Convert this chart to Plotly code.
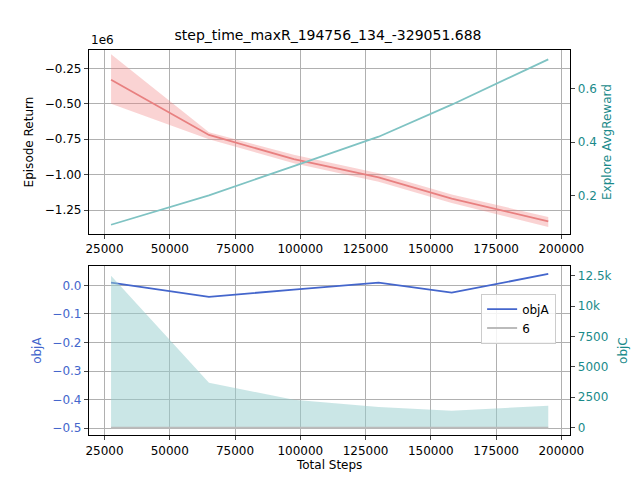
import plotly.graph_objects as go

steps = [27500, 65000, 97500, 130000, 158000, 195000]
ep_return = [-0.33e6, -0.72e6, -0.89e6, -1.02e6, -1.17e6, -1.33e6]
ep_upper = [-0.15e6, -0.70e6, -0.86e6, -0.99e6, -1.14e6, -1.30e6]
ep_lower = [-0.50e6, -0.75e6, -0.92e6, -1.05e6, -1.20e6, -1.37e6]
explore_reward = [0.09, 0.20, 0.31, 0.42, 0.54, 0.71]
obj_a = [0.01, -0.04, -0.015, 0.01, -0.025, 0.04]
obj_c = [12500, 3700, 2300, 1700, 1400, 1800]
six = [0, 0, 0, 0, 0, 0]
xticks = [25000, 50000, 75000, 100000, 125000, 150000, 175000, 200000]

fig = go.Figure()
# top panel
fig.add_trace(go.Scatter(x=steps + steps[::-1], y=ep_upper + ep_lower[::-1], fill="toself", mode="lines",
                         fillcolor="rgba(240,128,128,0.35)", line=dict(width=0),
                         xaxis="x", yaxis="y", showlegend=False, hoverinfo="skip"))
fig.add_trace(go.Scatter(x=steps, y=ep_return, mode="lines", line=dict(color="#e88080", width=1.8),
                         xaxis="x", yaxis="y", showlegend=False))
fig.add_trace(go.Scatter(x=steps, y=explore_reward, mode="lines", line=dict(color="#7fc3c3", width=1.8),
                         xaxis="x", yaxis="y2", showlegend=False))
# bottom panel
fig.add_trace(go.Scatter(x=steps, y=obj_c, fill="tozeroy", fillcolor="rgba(150,205,205,0.5)",
                         line=dict(width=0), mode="lines", xaxis="x2", yaxis="y4", showlegend=False))
fig.add_trace(go.Scatter(x=steps, y=six, mode="lines", line=dict(color="#bbbbbb", width=2),
                         xaxis="x2", yaxis="y4", name="6"))
fig.add_trace(go.Scatter(x=steps, y=obj_a, mode="lines", line=dict(color="#4466cc", width=1.8),
                         xaxis="x2", yaxis="y3", name="objA"))

ax = dict(showgrid=True, gridcolor="#b0b0b0", showline=True, linecolor="black", mirror=True,
          ticks="outside", ticklen=4, zeroline=False, tickfont=dict(size=12, color="black"))
xlabels = [str(v) for v in xticks]

fig.update_layout(
    width=640, height=480, margin=dict(l=0, r=0, t=0, b=0),
    paper_bgcolor="white", plot_bgcolor="white",
    font=dict(family="DejaVu Sans", size=12, color="black"),
    title=dict(text="step_time_maxR_194756_134_-329051.688", x=0.5, y=0.944, xanchor="center",
               yanchor="middle", font=dict(size=14)),
    xaxis=dict(ax, domain=[0.125, 0.898], range=[19000, 203500], tickvals=xticks, ticktext=xlabels,
               anchor="y"),
    yaxis=dict(ax, domain=[0.529, 0.9125], range=[-1.42e6, -0.12e6],
               tickvals=[-1.25e6, -1.0e6, -0.75e6, -0.5e6, -0.25e6],
               ticktext=["−1.25", "−1.00", "−0.75", "−0.50", "−0.25"],
               title=dict(text="Episode Return", standoff=8, font=dict(size=12))),
    yaxis2=dict(ax, overlaying="y", side="right", range=[0.055, 0.745], showgrid=False,
                tickvals=[0.2, 0.4, 0.6], tickfont=dict(size=12, color="#1a8a8a"),
                title=dict(text="Explore AvgReward", font=dict(color="#1a8a8a", size=12), standoff=6)),
    xaxis2=dict(ax, domain=[0.125, 0.898], range=[19000, 203500], tickvals=xticks, ticktext=xlabels,
                anchor="y3", title=dict(text="Total Steps", standoff=4, font=dict(size=12))),
    yaxis3=dict(ax, domain=[0.110, 0.4625], range=[-0.525, 0.068],
                tickvals=[-0.5, -0.4, -0.3, -0.2, -0.1, 0.0],
                ticktext=["−0.5", "−0.4", "−0.3", "−0.2", "−0.1", "0.0"],
                tickfont=dict(size=12, color="#4466cc"),
                title=dict(text="objA", font=dict(color="#4466cc", size=12), standoff=8)),
    yaxis4=dict(ax, overlaying="y3", side="right", range=[-620, 13300], showgrid=False,
                tickvals=[0, 2500, 5000, 7500, 10000, 12500], tickfont=dict(size=12, color="#1a8a8a"),
                title=dict(text="objC", font=dict(color="#1a8a8a", size=12), standoff=8)),
    legend=dict(x=0.875, y=0.405, xanchor="right", yanchor="top", bgcolor="rgba(255,255,255,0.85)",
                bordercolor="#cccccc", borderwidth=1, font=dict(size=12), traceorder="reversed"),
    annotations=[dict(text="1e6", x=0.125, y=0.915, xref="paper", yref="paper",
                      xanchor="left", yanchor="bottom", showarrow=False, font=dict(size=12))],
)

fig.write_html("out.html")
